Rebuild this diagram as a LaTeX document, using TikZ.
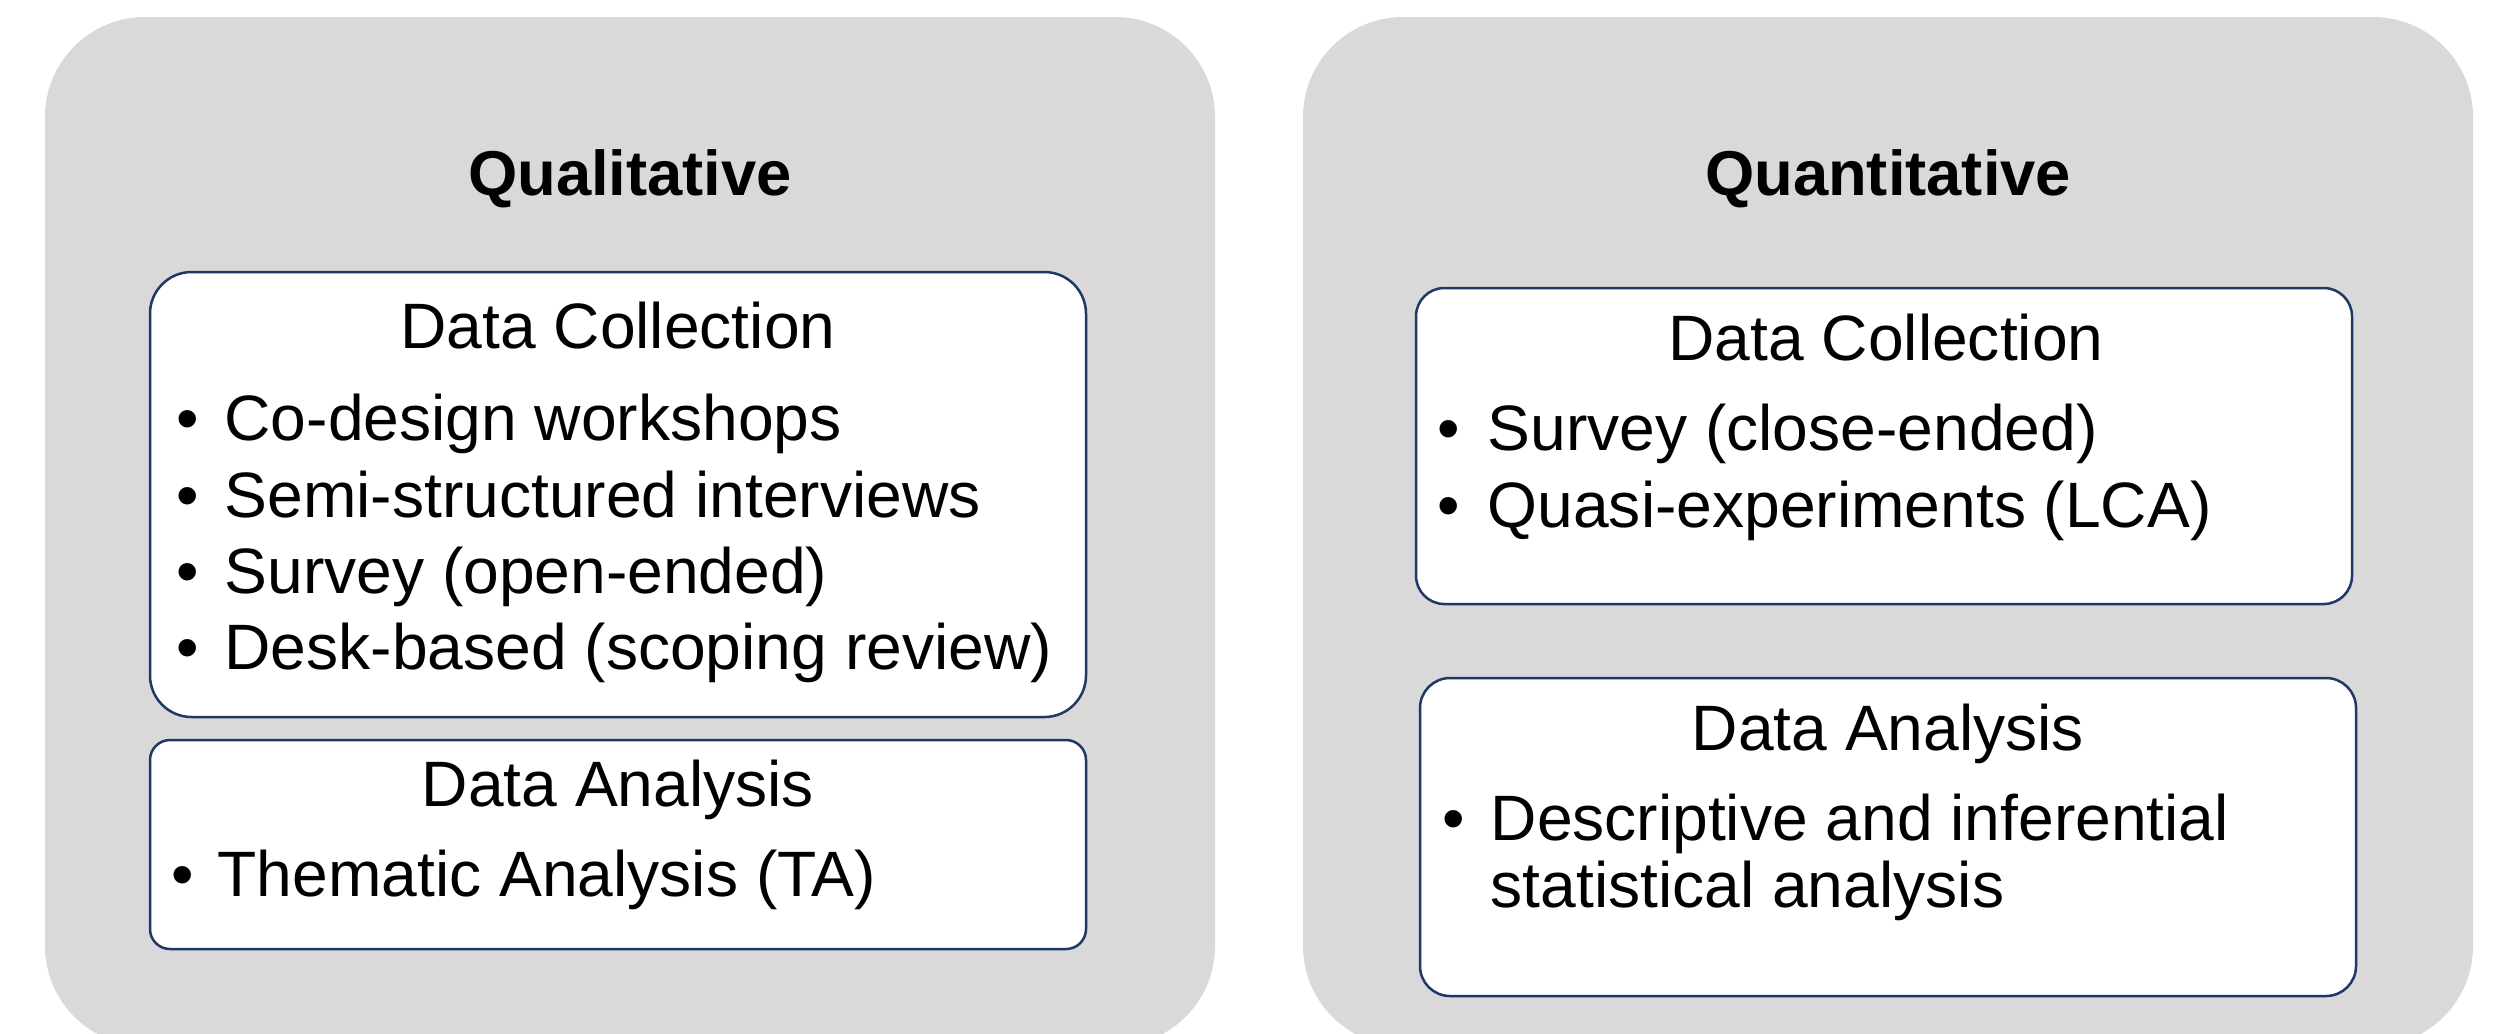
\documentclass[tikz,border=0pt]{standalone}
\usepackage{fontspec}
\setmainfont{Liberation Sans}
\usetikzlibrary{fit}
\definecolor{panelgray}{HTML}{D9D9D9}
\definecolor{navy}{HTML}{1F3864}
\begin{document}
\begin{tikzpicture}[x=0.3pt,y=-0.3pt,
  panel/.style={fill=panelgray, draw=none, rounded corners=30pt, inner sep=0pt},
  box/.style={fill=white, draw=navy, line width=0.75pt, inner sep=0pt},
  txt/.style={inner sep=0pt, font=\fontsize{19.25}{23}\selectfont, text=black},
  ttl/.style={txt, anchor=base, font=\fontsize{19}{22.8}\selectfont\bfseries},
  head/.style={txt, anchor=base},
  bul/.style={txt, anchor=base},
  item/.style={txt, anchor=base west}]
\useasboundingbox (0,0) rectangle (2493,1033);
\clip (0,0) rectangle (2493,1033);

% panels
\node[panel, fit={(45,17) (1215,1046)}] (pL) {};
\node[panel, fit={(1303,17) (2473,1046)}] (pR) {};

% left boxes
\node[box, rounded corners=12.5pt, fit={(150,272) (1086,717)}] (dcL) {};
\node[box, rounded corners=6pt, fit={(150,740) (1086,949)}] (daL) {};

% right boxes
\node[box, rounded corners=8.5pt, fit={(1416,288) (2352,604)}] (dcR) {};
\node[box, rounded corners=9pt, fit={(1420,678) (2356,996)}] (daR) {};

% titles
\node[ttl] (tL) at (630,195) {Qualitative};
\node[ttl] (tR) at (1888,195) {Quantitative};

% left data collection
\node[head] (hdcL) at (618,348) {Data Collection};
\node[bul] (bl1) at (188,440) {•};
\node[item] (il1) at (224,440) {Co-design workshops};
\node[bul] (bl2) at (188,517) {•};
\node[item] (il2) at (224,517) {Semi-structured interviews};
\node[bul] (bl3) at (188,593) {•};
\node[item] (il3) at (224,593) {Survey (open-ended)};
\node[bul] (bl4) at (188,669) {•};
\node[item] (il4) at (224,669) {Desk-based (scoping review)};

% left data analysis
\node[head] (hdaL) at (618,806) {Data Analysis};
\node[bul] (bl5) at (183,896) {•};
\node[item] (il5) at (217,896) {Thematic Analysis (TA)};

% right data collection
\node[head] (hdcR) at (1886,360) {Data Collection};
\node[bul] (br1) at (1449,450) {•};
\node[item] (ir1) at (1487,450) {Survey (close-ended)};
\node[bul] (br2) at (1449,527) {•};
\node[item] (ir2) at (1487,527) {Quasi-experiments (LCA)};

% right data analysis
\node[head] (hdaR) at (1888,750) {Data Analysis};
\node[bul] (br3) at (1454,840) {•};
\node[item] (ir3) at (1490,840) {Descriptive and inferential};
\node[item] (ir4) at (1490,907) {statistical analysis};
\end{tikzpicture}
\end{document}
